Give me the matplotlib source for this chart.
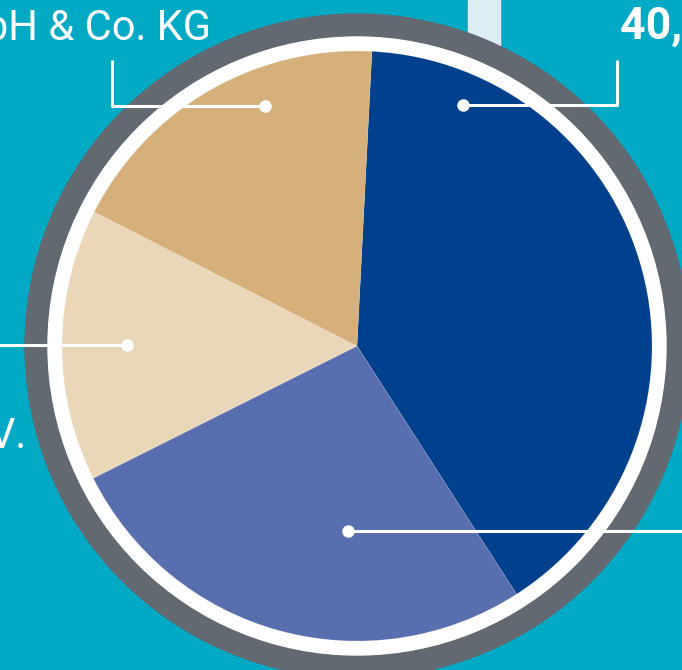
import matplotlib.pyplot as plt
from matplotlib.patches import Circle, Rectangle

# shares (percent), clockwise from the top
labels = ['Dark', 'Medium', 'Light', 'Tan']
shares = [40.1, 26.7, 14.9, 18.3]
colors = ['#00408c', '#596eae', '#ead7ba', '#d5b07a']

W, H = 682, 670
bg = '#00a9c4'

fig = plt.figure(figsize=(W / 100, H / 100), dpi=100, facecolor=bg)
ax = fig.add_axes([0, 0, 1, 1])
ax.set_facecolor(bg)

# pixel coords -> data coords (y up)
def P(x, y):
    return x, H - y

cx, cy = P(357, 346)

# light bar behind the ring
ax.add_patch(Rectangle(P(468, 80), 32, 80, color='#dbeef4', zorder=1))

# rings
ax.add_patch(Circle((cx, cy), 332, color='#626971', zorder=2))
ax.add_patch(Circle((cx, cy), 309, color='white', zorder=3))

wedges, _ = ax.pie(shares, colors=colors, startangle=87.1, counterclock=False,
                   center=(cx, cy), radius=295,
                   wedgeprops=dict(linewidth=0.4, edgecolor='#ffffff30'))
for w in wedges:
    w.set_zorder(4)

# leader lines
lw = 2.2
def leader(pts, dot):
    xs, ys = zip(*[P(*p) for p in pts])
    ax.plot(xs, ys, color='white', lw=lw, zorder=6, solid_capstyle='butt')
    ax.plot(*P(*dot), 'o', color='white', ms=8, zorder=7)

leader([(265, 106), (112, 106), (112, 60)], (265, 106))
leader([(463, 105), (617, 105), (617, 60)], (463, 105))
leader([(127, 345), (-5, 345)], (127, 345))
leader([(348, 531), (690, 531)], (348, 531))

# texts
ax.text(*P(211, 40), 'GmbH & Co. KG', color='white', fontsize=30,
        family='Roboto', weight='normal', ha='right', va='baseline', zorder=8)
ax.text(*P(620, 39), '40,1 %', color='white', fontsize=32,
        family='Roboto', weight='bold', ha='left', va='baseline', zorder=8)
ax.text(*P(26, 448), 'e.V.', color='white', fontsize=30,
        family='Roboto', weight='normal', ha='right', va='baseline', zorder=8)

ax.set_xlim(0, W)
ax.set_ylim(0, H)
ax.set_aspect('auto')
ax.axis('off')

fig.savefig('out.png', dpi=100, facecolor=bg)
